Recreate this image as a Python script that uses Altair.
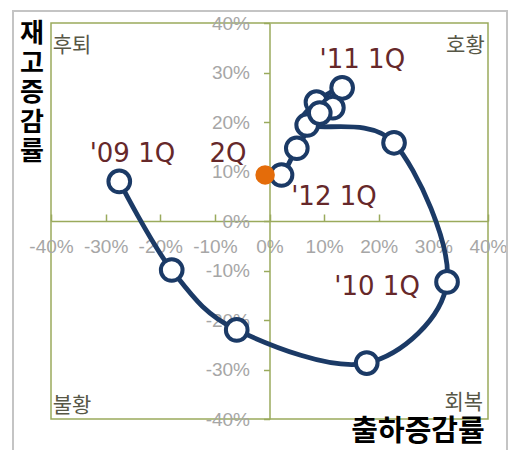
import altair as alt
import pandas as pd

# ---- data ----
quarters = ["'09 1Q", "'09 2Q", "'09 3Q", "'09 4Q", "'10 1Q", "'10 2Q", "'10 3Q",
            "'10 4Q", "'11 1Q", "'11 2Q", "'11 3Q", "'11 4Q", "'12 1Q", "'12 2Q"]
shipment = [-27.5, -17.9, -6.0, 17.8, 32.5, 22.8, 6.9, 8.6, 13.3, 11.6, 9.2, 5.0, 2.2, -0.8]
inventory = [8.0, -9.9, -22.0, -28.7, -12.3, 15.8, 19.4, 24.0, 26.9, 22.9, 21.8, 14.7, 9.3, 9.3]

label_text = ["'09 1Q", "2Q", "'10 1Q", "'11 1Q", "'12 1Q"]
label_x = [-25.1, -7.6, 19.7, 17.0, 11.8]
label_y = [13.5, 13.5, -13.3, 32.6, 4.9]

quad_left_text = ["후퇴", "불황"]
quad_left_x = [-39.7, -39.7]
quad_left_y = [35.4, -37.4]
quad_right_text = ["호황", "회복"]
quad_right_x = [39.4, 39.1]
quad_right_y = [35.4, -36.8]

tick_values = [-40, -30, -20, -10, 0, 10, 20, 30, 40]

x_title = "출하증감률"
y_title = ["재", "고", "증", "감", "률"]

# ---- styling ----
W, H = 437, 396
olive = "#9AAA5C"
navy = "#1B3A66"
orange = "#E46C0A"
maroon = "#66282A"
gray = "#A6A6A6"
quad_color = "#575746"
kfont = "Noto Sans CJK KR"

df = pd.DataFrame({"q": quarters, "x": shipment, "y": inventory,
                   "i": list(range(len(quarters)))})
labels = pd.DataFrame({"t": label_text, "x": label_x, "y": label_y})
qleft = pd.DataFrame({"t": quad_left_text, "x": quad_left_x, "y": quad_left_y})
qright = pd.DataFrame({"t": quad_right_text, "x": quad_right_x, "y": quad_right_y})
one = pd.DataFrame({"a": [0]})

xs = alt.Scale(domain=[-40, 40], nice=False, zero=False)
ys = alt.Scale(domain=[-40, 40], nice=False, zero=False)
pct = "datum.value + '%'"

line = alt.Chart(df).mark_line(
    interpolate="cardinal", color=navy, strokeWidth=4.8, strokeCap="round"
).encode(
    x=alt.X("x:Q", scale=xs, axis=alt.Axis(
        orient="top", offset=-H / 2, values=tick_values, labels=False,
        ticks=True, tickSize=7, tickColor=olive, tickWidth=1.5,
        domain=True, domainColor=olive, domainWidth=1.5, grid=False, title=None)),
    y=alt.Y("y:Q", scale=ys, axis=alt.Axis(
        orient="left", offset=-W / 2, values=tick_values, labelExpr=pct,
        ticks=True, tickSize=6, tickColor=olive, tickWidth=1.5,
        domain=True, domainColor=olive, domainWidth=1.5, grid=False, title=None,
        labelFont="Liberation Sans", labelFontSize=19, labelColor=gray,
        labelPadding=14, labelOverlap=False, labelFlush=False, labelBound=False)),
    order="i:Q",
)

points = alt.Chart(df).transform_filter(alt.datum.i < len(quarters) - 1).mark_circle(
    size=470, fill="white", stroke=navy, strokeWidth=4, opacity=1
).encode(
    x=alt.X("x:Q", scale=xs, axis=alt.Axis(
        orient="bottom", offset=-H / 2, values=tick_values, labelExpr=pct,
        ticks=False, tickSize=0, domain=False, grid=False, title=None,
        labelFont="Liberation Sans", labelFontSize=19, labelColor=gray,
        labelPadding=16, labelOverlap=False, labelFlush=False, labelBound=False)),
    y=alt.Y("y:Q", scale=ys, axis=None),
    order="i:Q",
)

latest = alt.Chart(df).transform_filter(alt.datum.i == len(quarters) - 1).mark_circle(
    size=380, color=orange, opacity=1
).encode(
    x=alt.X("x:Q", scale=xs, axis=None),
    y=alt.Y("y:Q", scale=ys, axis=None),
)

lab = alt.Chart(labels).mark_text(
    font="DejaVu Sans", fontSize=26, color=maroon, align="center", baseline="middle"
).encode(
    x=alt.X("x:Q", scale=xs, axis=None),
    y=alt.Y("y:Q", scale=ys, axis=None),
    text="t:N",
)

ql = alt.Chart(qleft).mark_text(
    font=kfont, fontSize=21, color=quad_color, align="left", baseline="middle"
).encode(
    x=alt.X("x:Q", scale=xs, axis=None),
    y=alt.Y("y:Q", scale=ys, axis=None),
    text="t:N",
)

qr = alt.Chart(qright).mark_text(
    font=kfont, fontSize=21, color=quad_color, align="right", baseline="middle"
).encode(
    x=alt.X("x:Q", scale=xs, axis=None),
    y=alt.Y("y:Q", scale=ys, axis=None),
    text="t:N",
)

ytitle = alt.Chart(one).mark_text(
    text=y_title, font=kfont, fontSize=26, fontWeight="bold", color="black",
    align="center", baseline="top", lineHeight=29.5
).encode(x=alt.value(-19), y=alt.value(-2))

xtitle = alt.Chart(one).mark_text(
    text=x_title, font=kfont, fontSize=29, fontWeight="bold", color="black",
    align="center", baseline="middle"
).encode(x=alt.value(367), y=alt.value(409))

frame = alt.Chart(one).mark_rect(
    fillOpacity=0, stroke="#C4C4C4", strokeWidth=2
).encode(x=alt.value(-38), x2=alt.value(456), y=alt.value(-12), y2=alt.value(445))

chart = alt.layer(
    frame, line, points, latest, lab, ql, qr, ytitle, xtitle
).resolve_axis(
    x="independent", y="independent"
).properties(
    width=W, height=H,
    padding={"left": 51, "top": 23, "right": 28, "bottom": 31},
    autosize=alt.AutoSizeParams(type="none"),
    background="white",
).configure_view(stroke=olive, strokeWidth=1.5)

chart.save("out.html", embed_options={"renderer": "svg", "actions": False})
